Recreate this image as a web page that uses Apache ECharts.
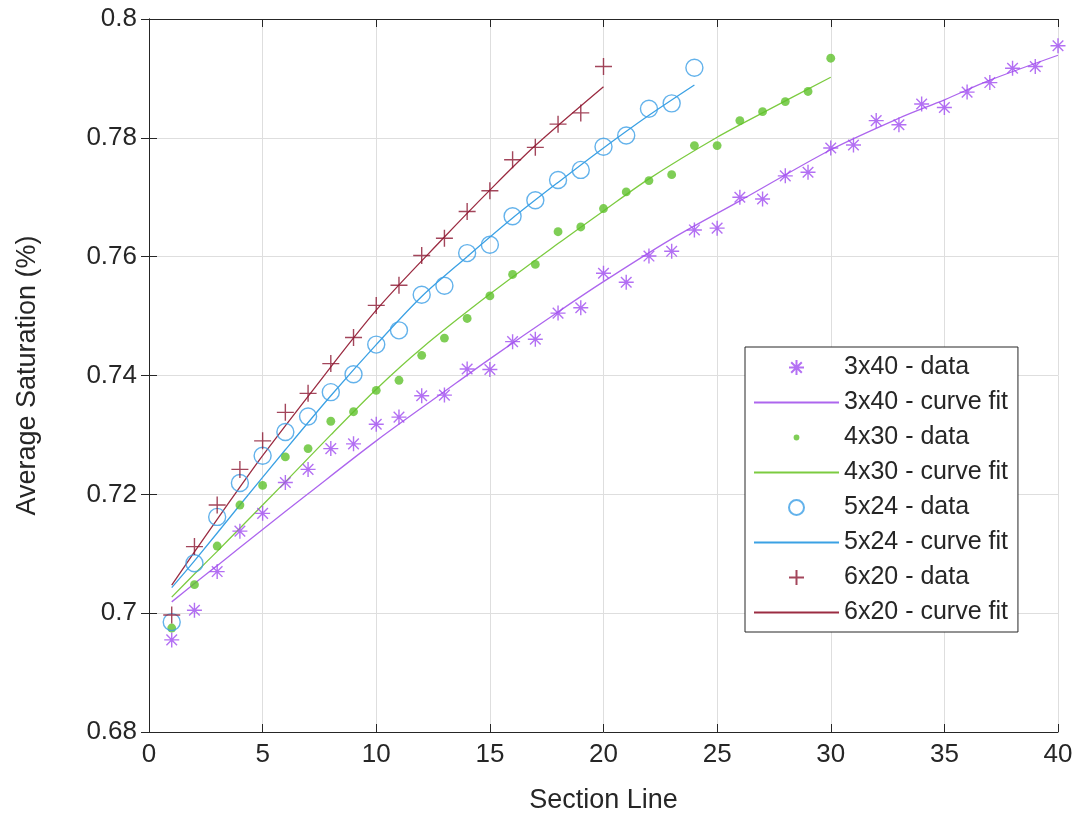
<!DOCTYPE html>
<html>
<head>
<meta charset="utf-8">
<title>Average Saturation by Section Line</title>
<script src="https://cdn.jsdelivr.net/npm/echarts@6/dist/echarts.min.js"></script>
<style>
  html, body { margin: 0; padding: 0; background: #ffffff; }
  #chart { width: 1078px; height: 819px; }
</style>
</head>
<body>
<div id="chart"></div>
<script>
// Axis ticks
const xTicks = [0, 5, 10, 15, 20, 25, 30, 35, 40];
const yTicks = [0.68, 0.70, 0.72, 0.74, 0.76, 0.78, 0.80];

// Measured average saturation per section line (index 0 = section line 1)
const sat3x40 = [
  0.6955, 0.7005, 0.7070, 0.7138, 0.7168, 0.7220, 0.7242, 0.7277, 0.7285, 0.7318,
  0.7330, 0.7366, 0.7367, 0.7411, 0.7410, 0.7457, 0.7461, 0.7505, 0.7514, 0.7572,
  0.7557, 0.7601, 0.7609, 0.7645, 0.7648, 0.7700, 0.7697, 0.7736, 0.7742, 0.7783,
  0.7788, 0.7829, 0.7822, 0.7857, 0.7851, 0.7877, 0.7893, 0.7917, 0.7920, 0.7955
];
const sat4x30 = [
  0.6975, 0.7048, 0.7113, 0.7182, 0.7215, 0.7263, 0.7277, 0.7323, 0.7339, 0.7375,
  0.7392, 0.7434, 0.7463, 0.7496, 0.7534, 0.7570, 0.7587, 0.7642, 0.7650, 0.7681,
  0.7709, 0.7728, 0.7738, 0.7787, 0.7787, 0.7829, 0.7844, 0.7861, 0.7878, 0.7934
];
const sat5x24 = [
  0.6985, 0.7084, 0.7162, 0.7219, 0.7265, 0.7305, 0.7331, 0.7372, 0.7402, 0.7452,
  0.7476, 0.7536, 0.7551, 0.7606, 0.7620, 0.7668, 0.7695, 0.7729, 0.7746, 0.7785,
  0.7804, 0.7849, 0.7858, 0.7918
];
const sat6x20 = [
  0.6997, 0.7112, 0.7182, 0.7242, 0.7290, 0.7338, 0.7370, 0.7420, 0.7464, 0.7518,
  0.7552, 0.7602, 0.7631, 0.7676, 0.7711, 0.7763, 0.7784, 0.7823, 0.7842, 0.7920
];

// Curve-fit samples (section line, fitted saturation)
const fit3x40X = [1, 2, 3, 5, 7, 10, 13, 15, 18, 20, 23, 26, 30, 33, 35, 37, 40];
const fit3x40Y = [0.7019, 0.7050, 0.7080, 0.7141, 0.7201, 0.7290, 0.7373, 0.7428, 0.7507,
                  0.7558, 0.7630, 0.7694, 0.7780, 0.7833, 0.7864, 0.7897, 0.7939];
const fit4x30X = [1, 2, 3, 4, 6, 8, 10, 12, 15, 18, 20, 22, 25, 27, 30];
const fit4x30Y = [0.7027, 0.7066, 0.7104, 0.7143, 0.7221, 0.7300, 0.7377, 0.7446, 0.7537,
                  0.7622, 0.7677, 0.7731, 0.7801, 0.7842, 0.7902];
const fit5x24X = [1, 2, 4, 6, 8, 10, 12, 14, 16, 18, 20, 22, 24];
const fit5x24Y = [0.7043, 0.7088, 0.7182, 0.7275, 0.7366, 0.7452, 0.7533, 0.7600, 0.7665,
                  0.7725, 0.7783, 0.7838, 0.7889];
const fit6x20X = [1, 2, 3, 4, 5, 7, 10, 13, 15, 17, 20];
const fit6x20Y = [0.7047, 0.7103, 0.7158, 0.7212, 0.7265, 0.7365, 0.7510, 0.7633, 0.7712,
                  0.7787, 0.7886];

const legendNames = [
  '3x40 - data', '3x40 - curve fit',
  '4x30 - data', '4x30 - curve fit',
  '5x24 - data', '5x24 - curve fit',
  '6x20 - data', '6x20 - curve fit'
];

const FONT = '"Liberation Sans", Arial, Helvetica, sans-serif';
const INK = '#262626';

// Marker shapes
const SYM_ASTERISK = 'path://M0,-1L0,1M-1,0L1,0M-0.707,-0.707L0.707,0.707M-0.707,0.707L0.707,-0.707';
const SYM_PLUS = 'path://M0,-1L0,1M-1,0L1,0';
const SYM_RING = 'path://M1,0A1,1,0,1,1,-1,0A1,1,0,1,1,1,0Z';
// small filled dot padded inside a larger box so legend and plot sizes stay small
const SYM_DOT = 'path://M-2.6,-2.6M2.6,2.6M1,0A1,1,0,1,1,-1,0A1,1,0,1,1,1,0Z';

const toPoints = (vals) => vals.map((v, i) => [i + 1, v]);
const toPairs = (xs, ys) => xs.map((x, i) => [x, ys[i]]);

function dataSeries(name, values, symbol, size, color, filled) {
  return {
    name: name,
    type: 'scatter',
    data: toPoints(values),
    symbol: symbol,
    symbolSize: size,
    itemStyle: {
      color: filled ? color : 'rgba(0,0,0,0)',
      borderColor: color,
      borderWidth: filled ? 0 : 1.4
    },
    z: 3
  };
}

function fitSeries(name, xs, ys, color) {
  return {
    name: name,
    type: 'line',
    data: toPairs(xs, ys),
    symbol: 'none',
    showSymbol: false,
    smooth: 0.3,
    lineStyle: { color: color, width: 1.3 },
    itemStyle: { color: color },
    z: 2
  };
}

const C_PURPLE = '#a04cf0', C_PURPLE_LINE = '#ad66ee';
const C_GREEN = '#5fc22c',  C_GREEN_LINE = '#7ccb40';
const C_BLUE = '#3c9fe6',   C_BLUE_LINE = '#3ba1e4';
const C_RED = '#8c1832',    C_RED_LINE = '#9b2c42';

const series = [
  dataSeries(legendNames[0], sat3x40, SYM_ASTERISK, 15, C_PURPLE, false),
  fitSeries(legendNames[1], fit3x40X, fit3x40Y, C_PURPLE_LINE),
  dataSeries(legendNames[2], sat4x30, SYM_DOT, 23, C_GREEN, true),
  fitSeries(legendNames[3], fit4x30X, fit4x30Y, C_GREEN_LINE),
  dataSeries(legendNames[4], sat5x24, SYM_RING, 17, C_BLUE, false),
  fitSeries(legendNames[5], fit5x24X, fit5x24Y, C_BLUE_LINE),
  dataSeries(legendNames[6], sat6x20, SYM_PLUS, 17, C_RED, false),
  fitSeries(legendNames[7], fit6x20X, fit6x20Y, C_RED_LINE)
];

// Legend entries: fit entries show only their line, no marker
const legendData = legendNames.map((name, i) =>
  i % 2 === 1 ? { name: name, itemStyle: { opacity: 0 } } : { name: name }
);

const xMin = xTicks[0], xMax = xTicks[xTicks.length - 1], xStep = xTicks[1] - xTicks[0];
const yMin = yTicks[0], yMax = yTicks[yTicks.length - 1];
const yStep = +(yTicks[1] - yTicks[0]).toFixed(4);

const boxAxisLine = { show: true, lineStyle: { color: INK, width: 1 } };
const innerTick = { show: true, inside: true, length: 8, lineStyle: { color: INK, width: 1 } };
const gridLine = { show: true, lineStyle: { color: '#dedede', width: 1 } };
const tickText = { color: INK, fontFamily: FONT, fontSize: 26 };

const chart = echarts.init(document.getElementById('chart'), null, { renderer: 'canvas' });
chart.setOption({
  backgroundColor: '#ffffff',
  animation: false,
  grid: { left: 149, right: 20, top: 19, bottom: 85, containLabel: false },
  xAxis: [
    {
      type: 'value', position: 'bottom',
      min: xMin, max: xMax, interval: xStep,
      name: 'Section Line', nameLocation: 'middle', nameGap: 55,
      nameTextStyle: { color: INK, fontFamily: FONT, fontSize: 27 },
      axisLine: boxAxisLine, axisTick: innerTick, splitLine: gridLine,
      axisLabel: Object.assign({ margin: 10 }, tickText)
    },
    {
      type: 'value', position: 'top',
      min: xMin, max: xMax, interval: xStep,
      axisLine: boxAxisLine, axisTick: innerTick, splitLine: { show: false },
      axisLabel: { show: false }
    }
  ],
  yAxis: [
    {
      type: 'value', position: 'left',
      min: yMin, max: yMax, interval: yStep,
      name: 'Average Saturation (%)', nameLocation: 'middle', nameGap: 108,
      nameTextStyle: { color: INK, fontFamily: FONT, fontSize: 27 },
      axisLine: boxAxisLine, axisTick: innerTick, splitLine: gridLine,
      axisLabel: Object.assign({
        margin: 12,
        formatter: (v) => String(+v.toFixed(2))
      }, tickText)
    },
    {
      type: 'value', position: 'right',
      min: yMin, max: yMax, interval: yStep,
      axisLine: boxAxisLine, axisTick: innerTick, splitLine: { show: false },
      axisLabel: { show: false }
    }
  ],
  legend: {
    data: legendData,
    orient: 'vertical',
    left: 745, top: 347,
    padding: [8, 10, 7, 8],
    itemWidth: 85, itemHeight: 15, itemGap: 10,
    backgroundColor: '#ffffff',
    borderColor: INK, borderWidth: 1,
    selectedMode: false,
    textStyle: { color: INK, fontFamily: FONT, fontSize: 25, lineHeight: 22 }
  },
  series: series
});
</script>
</body>
</html>
